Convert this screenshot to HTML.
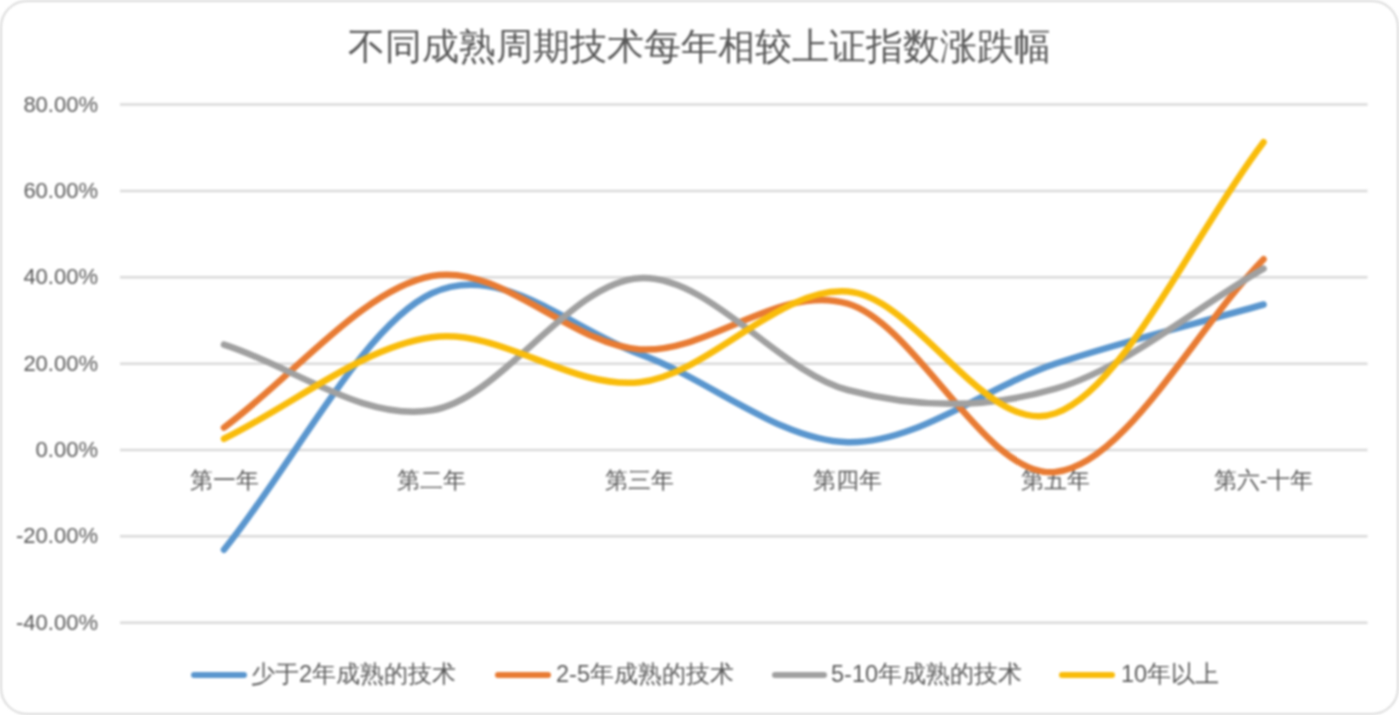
<!DOCTYPE html>
<html><head><meta charset="utf-8">
<style>
html,body{margin:0;padding:0;background:#fff;}
body{width:1399px;height:715px;position:relative;overflow:hidden;font-family:"Liberation Sans",sans-serif;color:#595959;}
.frame{position:absolute;left:0;top:0;width:1399px;height:715px;box-sizing:border-box;border:2px solid #dadada;border-radius:27px;}
svg{position:absolute;left:0;top:0;}
.wrap{position:absolute;left:0;top:0;width:1399px;height:715px;filter:blur(0.8px);}
.title{position:absolute;left:0;width:1399px;top:25px;text-align:center;font-size:37px;line-height:44px;white-space:nowrap;}
.yl{position:absolute;left:0;width:98px;text-align:right;font-size:22px;line-height:26px;white-space:nowrap;}
.xl{position:absolute;top:466px;width:200px;text-align:center;font-size:23px;line-height:28px;white-space:nowrap;}
.lg{position:absolute;top:660px;font-size:23.5px;line-height:28px;white-space:nowrap;}
</style></head><body>
<div class="wrap">
<div class="frame"></div>
<svg width="1399" height="715" viewBox="0 0 1399 715">
<g stroke="#d9d9d9" stroke-width="2.5" fill="none"><line x1="120" y1="104.60" x2="1367.5" y2="104.60"/><line x1="120" y1="190.95" x2="1367.5" y2="190.95"/><line x1="120" y1="277.30" x2="1367.5" y2="277.30"/><line x1="120" y1="363.65" x2="1367.5" y2="363.65"/><line x1="120" y1="450.00" x2="1367.5" y2="450.00"/><line x1="120" y1="536.35" x2="1367.5" y2="536.35"/><line x1="120" y1="622.70" x2="1367.5" y2="622.70"/></g>
</svg>
<div class="title">不同成熟周期技术每年相较上证指数涨跌幅</div>
<div class="yl" style="top:91.6px">80.00%</div><div class="yl" style="top:177.9px">60.00%</div><div class="yl" style="top:264.3px">40.00%</div><div class="yl" style="top:350.6px">20.00%</div><div class="yl" style="top:437.0px">0.00%</div><div class="yl" style="top:523.4px">-20.00%</div><div class="yl" style="top:609.7px">-40.00%</div>
<div class="xl" style="left:124.0px">第一年</div><div class="xl" style="left:331.9px">第二年</div><div class="xl" style="left:539.8px">第三年</div><div class="xl" style="left:747.7px">第四年</div><div class="xl" style="left:955.6px">第五年</div><div class="xl" style="left:1163.5px">第六-十年</div>
<div class="lg" style="left:251px">少于2年成熟的技术</div><div class="lg" style="left:556px">2-5年成熟的技术</div><div class="lg" style="left:831px">5-10年成熟的技术</div><div class="lg" style="left:1121px">10年以上</div>
<svg width="1399" height="715" viewBox="0 0 1399 715">
<g stroke-width="6.5" fill="none" stroke-linecap="round" stroke-linejoin="round"><path d="M223.96 549.73 C293.26 464.25 362.57 325.87 431.88 293.27 C501.18 260.68 570.49 329.33 639.79 354.15 C709.10 378.98 778.40 440.65 847.71 442.23 C917.01 443.81 986.32 386.60 1055.62 363.65 C1124.93 340.70 1194.24 324.22 1263.54 304.50" stroke="#5A96CE"/><path d="M223.96 427.55 C293.26 377.03 362.57 289.03 431.88 276.00 C501.18 262.98 570.49 344.80 639.79 349.40 C709.10 354.01 778.40 283.20 847.71 303.64 C917.01 324.07 986.32 479.43 1055.62 472.02 C1124.93 464.61 1194.24 330.12 1263.54 259.17" stroke="#E87B33"/><path d="M223.96 344.65 C293.26 366.53 362.57 421.36 431.88 410.28 C501.18 399.20 570.49 281.55 639.79 278.16 C709.10 274.78 778.40 371.57 847.71 389.99 C917.01 408.41 986.32 408.91 1055.62 388.69 C1124.93 368.47 1194.24 308.67 1263.54 268.66" stroke="#A0A0A0"/><path d="M223.96 438.77 C293.26 404.95 362.57 346.74 431.88 337.31 C501.18 327.89 570.49 389.84 639.79 382.22 C709.10 374.59 778.40 286.37 847.71 291.55 C917.01 296.73 986.32 438.20 1055.62 413.30 C1124.93 388.40 1194.24 232.54 1263.54 142.16" stroke="#F9BC0A"/></g>
<g stroke-width="6" stroke-linecap="round"><line x1="194" y1="675" x2="244" y2="675" stroke="#5A96CE"/><line x1="498" y1="675" x2="548" y2="675" stroke="#E87B33"/><line x1="775" y1="675" x2="824" y2="675" stroke="#A0A0A0"/><line x1="1062" y1="675" x2="1112" y2="675" stroke="#F9BC0A"/></g>
</svg>
</div>
</body></html>
